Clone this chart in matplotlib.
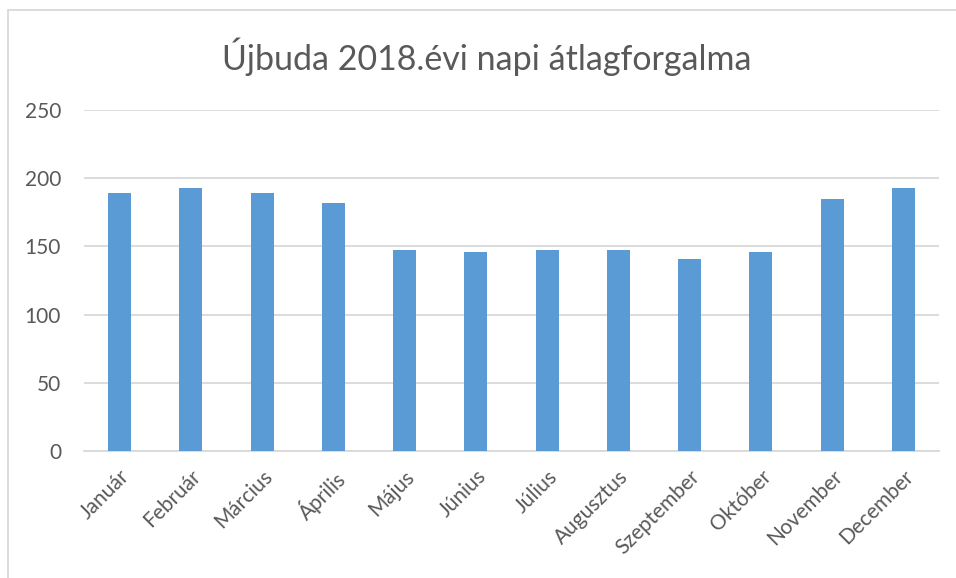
import matplotlib.pyplot as plt
from matplotlib.patches import Rectangle

months = ['Január', 'Február', 'Március', 'Április', 'Május', 'Június',
          'Július', 'Augusztus', 'Szeptember', 'Október', 'November', 'December']
forgalom = [189, 193, 189, 182, 147, 146, 147, 147, 141, 146, 185, 193]
yticks = [0, 50, 100, 150, 200, 250]

plt.rcParams['font.family'] = ['Lato', 'DejaVu Sans']
txt = '#595959'

fig = plt.figure(figsize=(9.56, 5.78), dpi=100)
# chart border (Excel frame, partly cropped)
fig.patches.append(Rectangle((7.5 / 956, -0.1), 1.2, 1.1 - 10.5 / 578,
                             transform=fig.transFigure, fill=False,
                             edgecolor='#D9D9D9', linewidth=1.3))

ax = fig.add_axes([84 / 956, 127 / 578, 855 / 956, 341 / 578])
x = range(len(months))
ax.bar(x, forgalom, width=0.32, color='#5B9BD5', zorder=3)

ax.set_xlim(-0.5, len(months) - 0.5)
ax.set_ylim(0, 250)
ax.set_yticks(yticks)
ax.set_xticks(list(x))
ax.set_xticklabels(months, rotation=45, ha='right', rotation_mode='anchor')
ax.grid(axis='y', color='#D9D9D9', linewidth=1.3, zorder=0)
ax.tick_params(axis='both', length=0, labelsize=15, labelcolor=txt)
ax.tick_params(axis='y', pad=16.5)
ax.tick_params(axis='x', pad=11)
for s in ['top', 'right', 'left']:
    ax.spines[s].set_visible(False)
ax.spines['bottom'].set_color('#D9D9D9')
ax.spines['bottom'].set_linewidth(1.3)

fig.text(487 / 956, 1 - 57 / 578, 'Újbuda 2018.évi napi átlagforgalma',
         ha='center', va='center', fontsize=24.5, color=txt)

fig.savefig('out.png', dpi=100)
